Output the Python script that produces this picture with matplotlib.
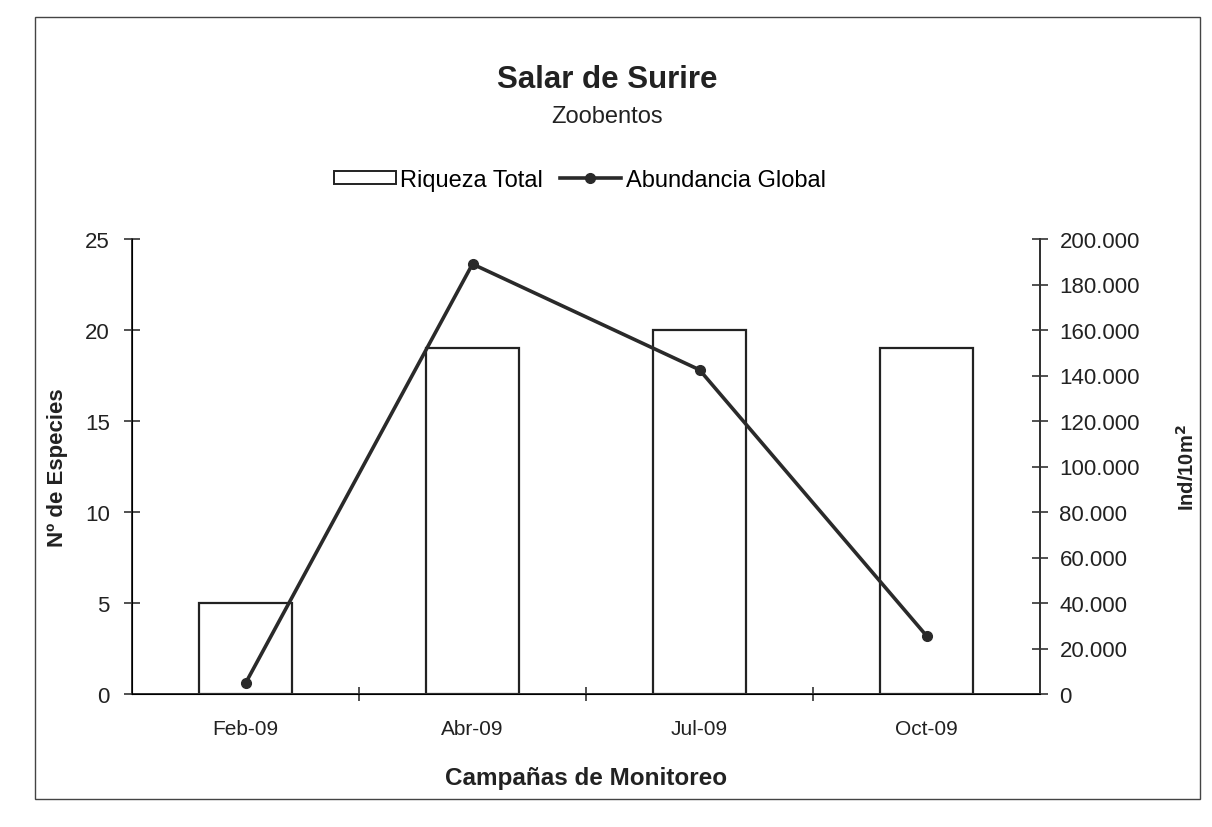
import matplotlib
matplotlib.use("Agg")
import matplotlib.pyplot as plt
from matplotlib.patches import Rectangle
from matplotlib.ticker import FuncFormatter, FixedLocator
from matplotlib.lines import Line2D

plt.rcParams['font.family'] = ['Liberation Sans', 'DejaVu Sans']

categories = ["Feb-09", "Abr-09", "Jul-09", "Oct-09"]
riqueza = [5, 19, 20, 19]
abundancia = [4700, 189000, 142500, 25600]

fig = plt.figure(figsize=(12.12, 8.28), dpi=100)
fig.patches.append(Rectangle((35/1212, 1-800/828), 1165/1212, 782/828,
                             transform=fig.transFigure, fill=False,
                             edgecolor='#444444', linewidth=1.0))

ax = fig.add_axes([132/1212, 1-695/828, (1040-132)/1212, (695-240)/828])
x = list(range(len(categories)))
ax.bar(x, riqueza, width=0.41, facecolor='white', edgecolor='#222222',
       linewidth=1.6, zorder=2)
ax.set_xlim(-0.5, len(categories)-0.5)
ax.set_ylim(0, 25)
ax.set_yticks([0, 5, 10, 15, 20, 25])
ax.set_xticks(x)
ax.set_xticklabels(categories, fontsize=15, color='#222222')
ax.tick_params(axis='x', which='major', length=0, pad=18)
ax.xaxis.set_minor_locator(FixedLocator([0.5, 1.5, 2.5]))
ax.tick_params(axis='x', which='minor', length=10, direction='inout', width=1.2, color='#333333')
ax.tick_params(axis='y', length=12, direction='inout', width=1.2, labelsize=16,
               color='#333333', labelcolor='#222222', pad=10)
ax.spines['top'].set_visible(False)
for s in ['left', 'bottom', 'right']:
    ax.spines[s].set_linewidth(1.4)
    ax.spines[s].set_color('#333333')
ax.set_ylabel("Nº de Especies", fontsize=16, fontweight='bold', labelpad=12, color='#222222')
ax.set_xlabel("Campañas de Monitoreo", fontsize=17.5, fontweight='bold', labelpad=20, color='#222222')

ax2 = ax.twinx()
ax2.plot(x, abundancia, color='#2a2a2a', linewidth=2.6, marker='o', markersize=7, zorder=3)
ax2.set_ylim(0, 200000)
ax2.set_yticks(range(0, 200001, 20000))
ax2.yaxis.set_major_formatter(FuncFormatter(lambda v, p: f"{int(v):,}".replace(",", ".")))
ax2.tick_params(axis='y', length=12, direction='inout', width=1.2, labelsize=16,
                color='#333333', labelcolor='#222222', pad=8)
ax2.spines['top'].set_visible(False)
ax2.spines['right'].set_linewidth(1.4)
ax2.spines['right'].set_color('#333333')
ax2.set_ylabel("Ind/10m$^{\\mathbf{2}}$", fontsize=14.5, fontweight='bold', labelpad=26, color='#222222')

fig.text(607/1212, 1-80/828, "Salar de Surire", ha='center', va='center',
         fontsize=22.5, fontweight='bold', color='#222222')
fig.text(607/1212, 1-117/828, "Zoobentos", ha='center', va='center',
         fontsize=17, color='#222222')

handles = [Rectangle((0, 0), 1, 1, facecolor='white', edgecolor='#222222', linewidth=1.4),
           Line2D([0], [0], color='#2a2a2a', linewidth=2.6, marker='o', markersize=7)]
fig.legend(handles, ["Riqueza Total", "Abundancia Global"], loc='center',
           bbox_to_anchor=(580/1212, 1-181/828), ncol=2, frameon=False,
           fontsize=17, handlelength=2.6, handleheight=0.5, columnspacing=0.7,
           handletextpad=0.2)

fig.savefig("out.png", dpi=100, facecolor='white')
